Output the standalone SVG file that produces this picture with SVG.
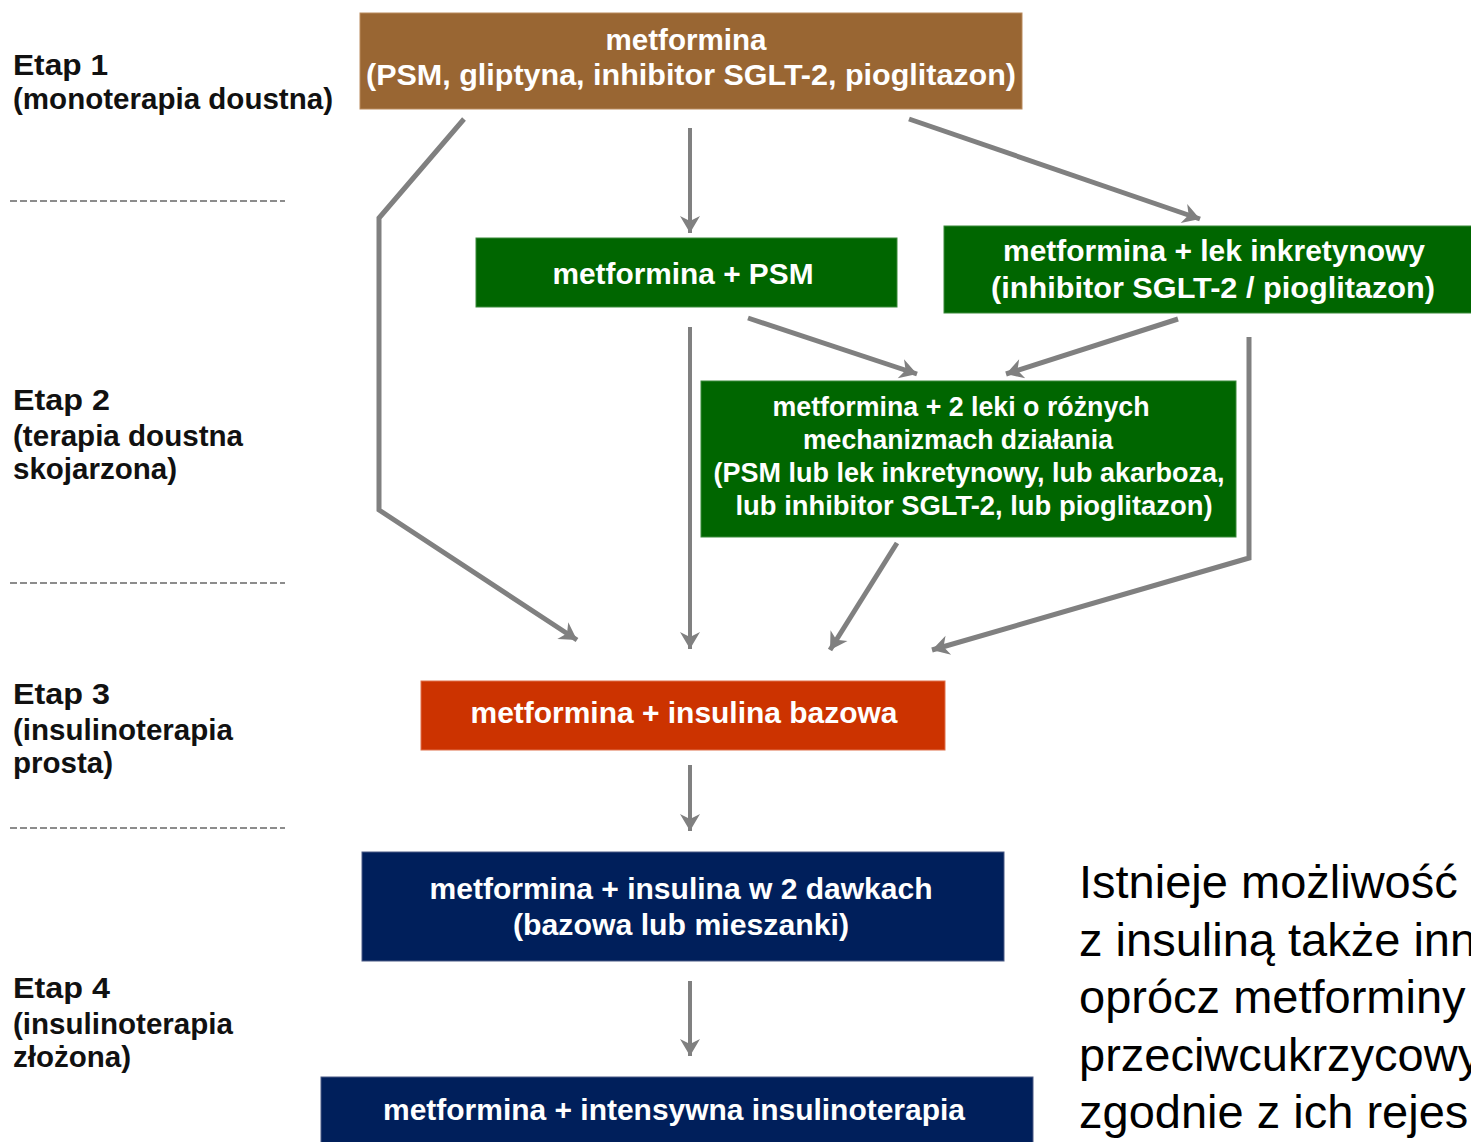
<svg xmlns="http://www.w3.org/2000/svg" width="1471" height="1142" viewBox="0 0 1471 1142">
<defs>
<marker id="ah" viewBox="-2 -11 22 22" refX="17" refY="0" markerWidth="22" markerHeight="22" markerUnits="userSpaceOnUse" orient="auto">
<path d="M0,-10 L17,0 L0,10 L5,0 z" fill="#808080"/>
</marker>
<style>
.lbl{font-family:"Liberation Sans",Arial,sans-serif;font-weight:bold;font-size:29px;fill:#111}
.bt{font-family:"Liberation Sans",Arial,sans-serif;font-weight:bold;font-size:30px;fill:#fff;text-anchor:middle}
.mt{font-family:"Liberation Sans",Arial,sans-serif;font-weight:bold;font-size:28px;fill:#fff;text-anchor:middle}
.side{font-family:"Liberation Sans",Arial,sans-serif;font-size:47px;fill:#000}
.dash{stroke:#8c8c8c;stroke-width:2;stroke-dasharray:7 3;fill:none}
.con{stroke:#808080;stroke-width:5;fill:none;marker-end:url(#ah);stroke-linejoin:miter}
.conv{stroke:#808080;stroke-width:4;fill:none;marker-end:url(#ah)}
</style>
</defs>
<rect width="1471" height="1142" fill="#fff"/>

<g id="stage-labels">
<text class="lbl" x="13" y="75" textLength="95" lengthAdjust="spacingAndGlyphs">Etap 1</text>
<text class="lbl" x="13" y="109" textLength="320" lengthAdjust="spacingAndGlyphs">(monoterapia doustna)</text>
<text class="lbl" x="13" y="410" textLength="97" lengthAdjust="spacingAndGlyphs">Etap 2</text>
<text class="lbl" x="13" y="446" textLength="230" lengthAdjust="spacingAndGlyphs">(terapia doustna</text>
<text class="lbl" x="13" y="479" textLength="164" lengthAdjust="spacingAndGlyphs">skojarzona)</text>
<text class="lbl" x="13" y="704" textLength="97" lengthAdjust="spacingAndGlyphs">Etap 3</text>
<text class="lbl" x="13" y="740" textLength="220" lengthAdjust="spacingAndGlyphs">(insulinoterapia</text>
<text class="lbl" x="13" y="773" textLength="100" lengthAdjust="spacingAndGlyphs">prosta)</text>
<text class="lbl" x="13" y="998" textLength="97" lengthAdjust="spacingAndGlyphs">Etap 4</text>
<text class="lbl" x="13" y="1034" textLength="220" lengthAdjust="spacingAndGlyphs">(insulinoterapia</text>
<text class="lbl" x="13" y="1067" textLength="118" lengthAdjust="spacingAndGlyphs">złożona)</text>
</g>

<g id="separators">
<line class="dash" x1="10" y1="201" x2="285" y2="201"/>
<line class="dash" x1="10" y1="583" x2="285" y2="583"/>
<line class="dash" x1="10" y1="828" x2="285" y2="828"/>
</g>

<g id="connectors">
<polyline class="con" points="464,119 379,218 379,510 577,640"/>
<line class="conv" x1="690" y1="128" x2="690" y2="233"/>
<line class="con" x1="909" y1="119" x2="1200" y2="219"/>
<line class="conv" x1="690" y1="327" x2="690" y2="649"/>
<line class="con" x1="748" y1="318" x2="917" y2="374"/>
<line class="con" x1="1178" y1="319" x2="1006" y2="374"/>
<polyline class="con" points="1249,337 1249,558 932,650"/>
<line class="con" x1="897" y1="543" x2="830" y2="650"/>
<line class="conv" x1="690" y1="765" x2="690" y2="831"/>
<line class="conv" x1="690" y1="981" x2="690" y2="1056"/>
</g>

<g id="node-etap1">
<rect x="360" y="13" width="662" height="96" fill="#996633" stroke="#b98a5c" stroke-width="1"/>
<text class="bt" x="686" y="50" textLength="161" lengthAdjust="spacingAndGlyphs">metformina</text>
<text class="bt" x="691" y="85" textLength="650" lengthAdjust="spacingAndGlyphs">(PSM, gliptyna, inhibitor SGLT-2, pioglitazon)</text>
</g>

<g id="node-psm">
<rect x="476" y="238" width="421" height="69" fill="#006600" stroke="#3a8a3a" stroke-width="1"/>
<text class="bt" x="683" y="284" textLength="261" lengthAdjust="spacingAndGlyphs">metformina + PSM</text>
</g>

<g id="node-inkretyn">
<rect x="944" y="226" width="530" height="87" fill="#006600" stroke="#3a8a3a" stroke-width="1"/>
<text class="bt" x="1214" y="261" textLength="422" lengthAdjust="spacingAndGlyphs">metformina + lek inkretynowy</text>
<text class="bt" x="1213" y="298" textLength="444" lengthAdjust="spacingAndGlyphs">(inhibitor SGLT-2 / pioglitazon)</text>
</g>

<g id="node-two-drugs">
<rect x="701" y="381" width="535" height="156" fill="#006600" stroke="#3a8a3a" stroke-width="1"/>
<text class="mt" x="961" y="416" textLength="377" lengthAdjust="spacingAndGlyphs">metformina + 2 leki o różnych</text>
<text class="mt" x="958" y="449" textLength="310" lengthAdjust="spacingAndGlyphs">mechanizmach działania</text>
<text class="mt" x="969" y="482" textLength="511" lengthAdjust="spacingAndGlyphs">(PSM lub lek inkretynowy, lub akarboza,</text>
<text class="mt" x="974" y="515" textLength="477" lengthAdjust="spacingAndGlyphs">lub inhibitor SGLT-2, lub pioglitazon)</text>
</g>

<g id="node-etap3">
<rect x="421" y="681" width="524" height="69" fill="#cc3300" stroke="#e0704a" stroke-width="1"/>
<text class="bt" x="684" y="723" textLength="427" lengthAdjust="spacingAndGlyphs">metformina + insulina bazowa</text>
</g>

<g id="node-two-doses">
<rect x="362" y="852" width="642" height="109" fill="#001f5b" stroke="#4a5a85" stroke-width="1"/>
<text class="bt" x="681" y="899" textLength="503" lengthAdjust="spacingAndGlyphs">metformina + insulina w 2 dawkach</text>
<text class="bt" x="681" y="935" textLength="336" lengthAdjust="spacingAndGlyphs">(bazowa lub mieszanki)</text>
</g>

<g id="node-intensive">
<rect x="321" y="1077" width="712" height="70" fill="#001f5b" stroke="#4a5a85" stroke-width="1"/>
<text class="bt" x="674" y="1120" textLength="582" lengthAdjust="spacingAndGlyphs">metformina + intensywna insulinoterapia</text>
</g>

<g id="side-note">
<text class="side" x="1079" y="898">Istnieje możliwość</text>
<text class="side" x="1079" y="956">z insuliną także inn</text>
<text class="side" x="1079" y="1013">oprócz metforminy</text>
<text class="side" x="1079" y="1071">przeciwcukrzycowy</text>
<text class="side" x="1079" y="1128">zgodnie z ich rejes</text>
</g>
</svg>
